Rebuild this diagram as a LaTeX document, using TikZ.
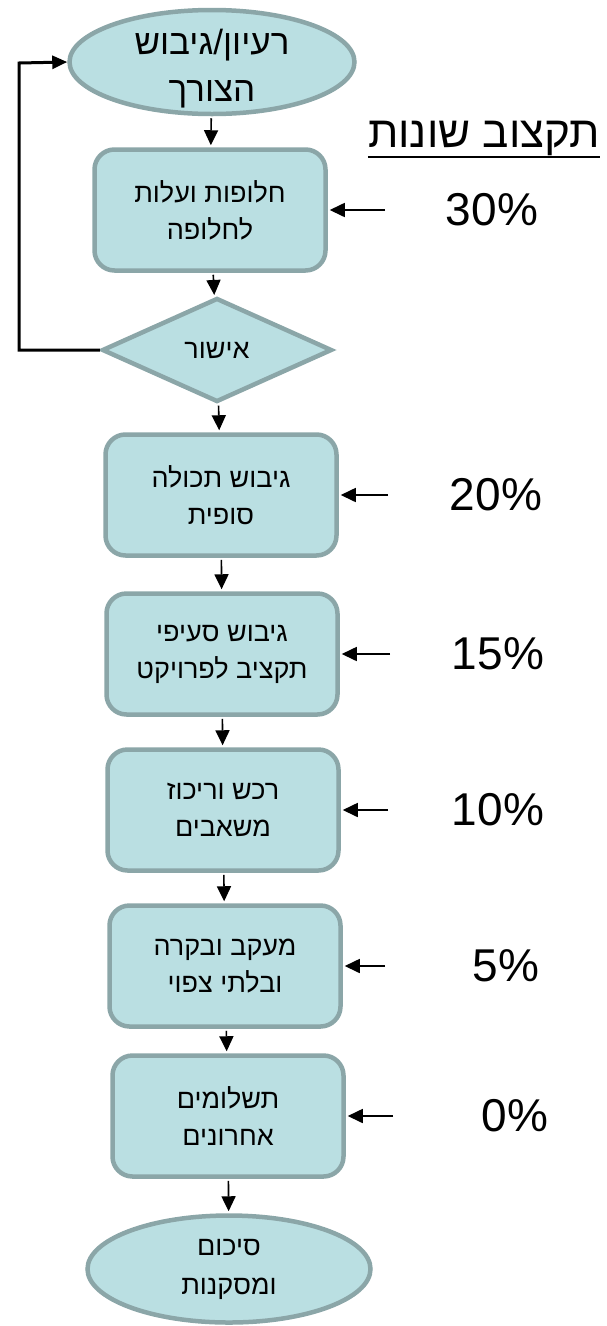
\documentclass[tikz,border=0pt]{standalone}
\usepackage{fontspec}
\setmainfont{Liberation Sans}
\newfontfamily\hebfont[Script=Hebrew]{Liberation Sans}
\TeXXeTstate=1
\usetikzlibrary{arrows.meta,shapes.geometric}
\definecolor{boxfill}{RGB}{186,223,226}
\definecolor{boxline}{RGB}{139,166,168}
\newcommand{\rtl}[1]{\beginR#1\endR}

\tikzset{
	stage/.style={draw=boxline, fill=boxfill, line width=4.5pt, rounded corners=20pt,
		minimum width=231pt, minimum height=121pt, inner sep=0pt, align=center,
		font=\hebfont\fontsize{27}{37}\selectfont},
	term/.style={ellipse, draw=boxline, fill=boxfill, line width=4.5pt, inner sep=0pt,
		minimum width=285pt, minimum height=104pt, align=center,
		font=\hebfont\fontsize{27}{39}\selectfont},
	decide/.style={diamond, draw=boxline, fill=boxfill, line width=4.5pt, inner sep=0pt,
		minimum width=230pt, minimum height=104pt,
		font=\hebfont\fontsize{27}{27}\selectfont},
	flow/.style={-{Triangle[length=15pt,width=14pt]}, line width=1.6pt,
		shorten <=2pt, shorten >=2pt},
	backflow/.style={-{Triangle[length=15pt,width=13pt]}, line width=3pt},
	pct/.style={font=\fontsize{46}{46}\selectfont},
}

\begin{document}
\begin{tikzpicture}[x=1pt,y=-1pt]
			\useasboundingbox (0,0) rectangle (607,1326);

			% stages
			\node[term, font=\hebfont\fontsize{35}{47}\selectfont] (idea) at (212,62)
				{\raisebox{-13pt}[0pt][0pt]{\begin{tabular}{@{}c@{}}\rtl{רעיון/גיבוש}\\\rtl{הצורך}\end{tabular}}};
			\node[stage] (alt) at (210,210) {\rtl{חלופות ועלות}\\\rtl{לחלופה}};
			\node[decide] (ok) at (217,350) {\rtl{אישור}};
			\node[stage] (scope) at (221,495) {\rtl{גיבוש תכולה}\\\rtl{סופית}};
			\node[stage] (budget) at (222,654) {\rtl{גיבוש סעיפי}\\\rtl{תקציב לפרויקט}};
			\node[stage] (buy) at (223,810) {\rtl{רכש וריכוז}\\\rtl{משאבים}};
			\node[stage] (track) at (225,966) {\rtl{מעקב ובקרה}\\\rtl{ובלתי צפוי}};
			\node[stage] (pay) at (228,1116) {\rtl{תשלומים}\\\rtl{אחרונים}};
			\node[term, minimum width=283pt, minimum height=107pt] (end) at (229,1269) {\rtl{סיכום}\\\rtl{ומסקנות}};

			\draw[flow] (idea) -- (alt);
			\draw[flow] (alt) -- (ok);
			\draw[flow] (ok) -- (scope);
			\draw[flow] (scope) -- (budget);
			\draw[flow] (budget) -- (buy);
			\draw[flow] (buy) -- (track);
			\draw[flow] (track) -- (pay);
			\draw[flow] (pay) -- (end);

			% back to the start
			\coordinate (back) at (19,63);
			\draw[backflow] (ok.west) -| (back) -- (idea.west);

			% budget share
			\node[font=\hebfont\fontsize{44}{44}\selectfont, inner xsep=0pt, anchor=base] (title) at (484,147) {\rtl{תקצוב שונות}};
			\draw[line width=2.5pt] ([yshift=-10pt]title.base west) -- ([yshift=-10pt]title.base east);

			\foreach \n/\x/\tx/\p in {alt/385/492/30, scope/388/496/20, budget/390/498/15,
				buy/388/498/10, track/385/506/5, pay/393/515/0}
			{
				\coordinate (\n-in) at (\n.east -| \x,0);
				\node[pct] (\n-pct) at (\n.east -| \tx,0) {\p\%};
				\draw[flow, shorten <=0pt] (\n-in) -- (\n.east);
			}
		\end{tikzpicture}
\end{document}
